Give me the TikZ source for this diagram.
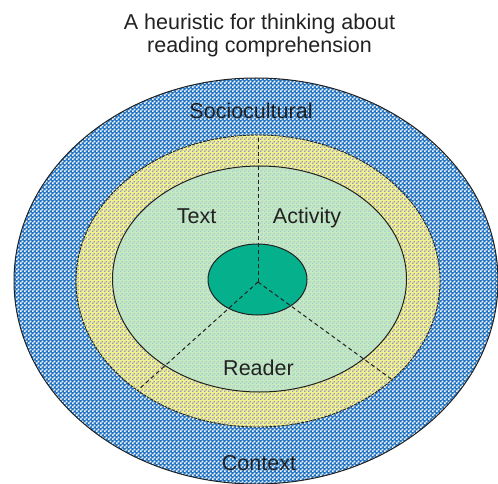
\documentclass[tikz,border=0pt]{standalone}
\usepackage{fontspec}
\setmainfont{Liberation Sans}
\usetikzlibrary{patterns}

% fine halftone checkerboards used for the screened fills
\pgfdeclarepatternformonly{halftone}{\pgfpointorigin}{\pgfpoint{4bp}{4bp}}{\pgfpoint{4bp}{4bp}}{%
  \pgfpathrectangle{\pgfpointorigin}{\pgfpoint{1.7bp}{1.7bp}}%
  \pgfpathrectangle{\pgfpoint{2bp}{2bp}}{\pgfpoint{1.7bp}{1.7bp}}%
  \pgfusepath{fill}}
\pgfdeclarepatternformonly{halftonegaps}{\pgfpointorigin}{\pgfpoint{4bp}{4bp}}{\pgfpoint{4bp}{4bp}}{%
  \pgfpathrectangle{\pgfpointorigin}{\pgfpoint{2.1bp}{2.1bp}}%
  \pgfpathrectangle{\pgfpoint{2bp}{2bp}}{\pgfpoint{2.1bp}{2.1bp}}%
  \pgfusepath{fill}}

\definecolor{inkgray}{HTML}{222222}
\definecolor{dotblue}{HTML}{1F72C2}
\definecolor{ringyellow}{HTML}{F2F28C}
\definecolor{ringlilac}{HTML}{9090D0}
\definecolor{palegreen}{HTML}{C8E8C0}
\definecolor{paleteal}{HTML}{A0D2D2}
\definecolor{coreteal}{HTML}{05B08C}

\tikzset{
  label/.style={text=inkgray, font=\fontsize{21.5bp}{24bp}\selectfont, inner sep=0pt},
  outline/.style={draw=inkgray, line width=1bp},
  divider/.style={draw=inkgray, line width=1bp, dash pattern=on 4bp off 3bp},
}

\begin{document}
\begin{tikzpicture}[x=1bp, y=-1bp]
  \useasboundingbox (0,0) rectangle (498,484);

  % title
  \node[label, anchor=base] (title1) at (259.5,30) {A heuristic for thinking about};
  \node[label, anchor=base] (title2) at (259.5,53) {reading comprehension};

  % sociocultural context (outer band): blue screen with white gaps
  \fill[dotblue] (256,281) ellipse [x radius=242, y radius=203];
  \fill[pattern=halftonegaps, pattern color=white] (256,281) ellipse [x radius=242, y radius=203];
  \draw[outline] (256,281) ellipse [x radius=242, y radius=203];

  % middle band
  \fill[ringyellow] (258,281) ellipse [x radius=182, y radius=146];
  \fill[pattern=halftone, pattern color=ringlilac] (258,281) ellipse [x radius=182, y radius=146];
  \draw[inkgray, line width=0.9bp, dash pattern=on 3bp off 1bp] (258,281) ellipse [x radius=182, y radius=146];

  % text / activity / reader region
  \fill[palegreen] (259.5,279) ellipse [x radius=147, y radius=113];
  \fill[pattern=halftone, pattern color=paleteal] (259.5,279) ellipse [x radius=147, y radius=113];
  \draw[outline] (259.5,279) ellipse [x radius=147, y radius=113];

  % core
  \draw[outline, fill=coreteal] (257.5,279.5) ellipse [x radius=49.5, y radius=35.5];

  % dividers from the hub to the edge of the middle band
  \coordinate (hub) at (258,282);
  \coordinate (topend) at (258,135);
  \coordinate (leftend) at (138,390);
  \coordinate (rightend) at (392.6,380);
  \draw[divider] (hub) -- (topend);
  \draw[divider] (hub) -- (leftend);
  \draw[divider] (hub) -- (rightend);

  % region labels
  \node[label, anchor=base] (socio) at (251,119) {Sociocultural};
  \node[label, anchor=base] (text) at (196.5,223) {Text};
  \node[label, anchor=base] (activity) at (307,223) {Activity};
  \node[label, anchor=base] (reader) at (258.5,375) {Reader};
  \node[label, anchor=base] (context) at (259,470) {Context};
\end{tikzpicture}
\end{document}
